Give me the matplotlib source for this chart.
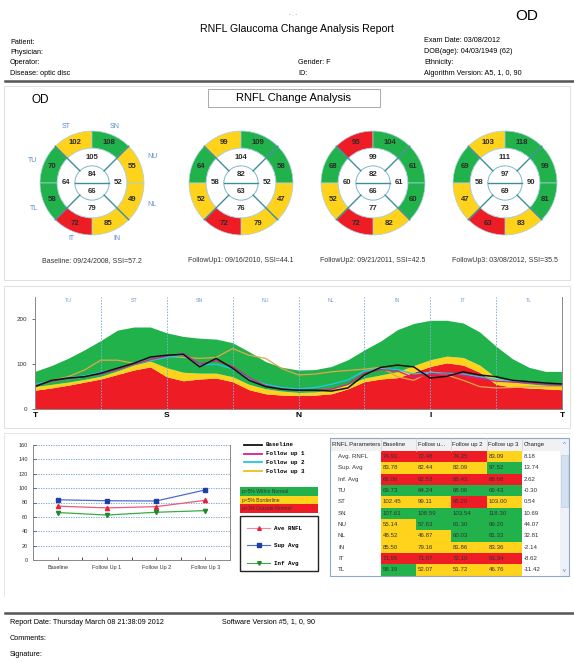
import numpy as np
import matplotlib.pyplot as plt
from matplotlib.patches import Wedge, Circle, Rectangle, Arc

plt.rcParams['font.family'] = ['Liberation Sans', 'DejaVu Sans']

# ---------------- data ----------------
visits = ['Baseline', 'Follow Up 1', 'Follow Up 2', 'Follow Up 3']
captions = ['Baseline: 09/24/2008, SSI=57.2', 'FollowUp1: 09/16/2010, SSI=44.1',
            'FollowUp2: 09/21/2011, SSI=42.5', 'FollowUp3: 03/08/2012, SSI=35.5']

# clock sectors, OD (nasal on the right)
sectors = ['TU', 'ST', 'SN', 'NU', 'NL', 'IN', 'IT', 'TL']
sector_vals = [[70, 102, 108, 55, 49, 85, 72, 58],
               [64, 99, 109, 58, 47, 79, 72, 52],
               [68, 95, 104, 61, 60, 82, 72, 52],
               [69, 103, 118, 99, 81, 83, 63, 47]]
quad_vals = [[105, 52, 79, 64],   # S, N, I, T
             [104, 52, 76, 58],
             [99, 61, 77, 60],
             [111, 90, 73, 58]]
center_vals = [[84, 66], [82, 63], [82, 66], [97, 69]]

# table
params = ['Avg. RNFL', 'Sup. Avg', 'Inf. Avg', 'TU', 'ST', 'SN', 'NU', 'NL', 'IN', 'IT', 'TL']
table_vals = [[74.91, 72.48, 74.25, 83.09],
              [83.78, 82.44, 82.09, 97.52],
              [66.06, 62.53, 66.43, 68.68],
              [69.73, 64.24, 68.06, 69.43],
              [102.45, 99.11, 95.20, 103.00],
              [107.61, 108.59, 103.54, 118.30],
              [55.14, 57.63, 61.30, 99.20],
              [48.52, 46.87, 60.03, 81.33],
              [85.50, 79.16, 81.86, 83.36],
              [71.95, 71.97, 72.10, 63.34],
              [58.19, 52.07, 51.72, 46.76]]
change_vals = ['8.18', '13.74', '2.62', '-0.30', '0.54', '10.69', '44.07', '32.81', '-2.14', '-8.62', '-11.42']
status = ['RRRY', 'YYYG', 'RRRR', 'GGGG', 'YYRY', 'GGGG', 'YGGG', 'YYGG', 'YYYY', 'RRRR', 'GYYY']
table_header = ['RNFL Parameters', 'Baseline', 'Follow u...', 'Follow up 2', 'Follow up 3', 'Change']

# TSNIT profile, sampled every quarter sector (T-S-N-I-T)
tsnit_x = np.linspace(0, 8, 33)
norm_1 = [42, 47, 53, 60, 67, 77, 87, 94, 72, 63, 67, 69, 61, 43, 34, 31, 30,
          31, 34, 45, 61, 67, 70, 82, 95, 103, 98, 82, 55, 49, 47, 45, 43]
norm_5 = [50, 55, 60, 66, 73, 85, 98, 107, 92, 82, 80, 80, 72, 55, 45, 40, 37,
          38, 44, 55, 69, 76, 83, 97, 110, 118, 115, 98, 70, 60, 56, 53, 51]
norm_95 = [84, 97, 113, 132, 153, 176, 183, 183, 170, 162, 158, 156, 148, 128, 106, 93, 87,
           88, 95, 110, 132, 152, 177, 191, 198, 198, 192, 172, 140, 112, 93, 84, 84]
tsnit_base = [50, 64, 69, 72, 80, 91, 102, 116, 120, 122, 94, 113, 91, 64, 50, 44, 42,
              42, 40, 47, 76, 93, 98, 94, 69, 73, 83, 76, 72, 64, 61, 58, 56]
tsnit_fu1 = [52, 62, 68, 72, 78, 88, 100, 110, 118, 124, 100, 108, 95, 70, 52, 45, 42,
             42, 44, 55, 80, 88, 85, 70, 78, 78, 75, 68, 62, 60, 58, 55, 54]
tsnit_fu2 = [55, 63, 70, 74, 82, 90, 100, 108, 115, 120, 98, 100, 90, 68, 55, 48, 45,
             48, 55, 65, 85, 90, 88, 78, 82, 80, 78, 72, 66, 62, 58, 56, 55]
tsnit_fu3 = [53, 64, 72, 87, 109, 109, 102, 109, 118, 115, 113, 115, 135, 120, 113, 90, 76,
             78, 83, 86, 89, 93, 72, 64, 83, 76, 64, 50, 47, 48, 50, 50, 50]
tsnit_ticks = ['T', 'S', 'N', 'I', 'T']

# trend lines (from table)
avg_rnfl = table_vals[0]
sup_avg = table_vals[1]
inf_avg = table_vals[2]

GREEN = '#22B24C'
YELLOW = '#FFD31C'
RED = '#EE1D25'
col_of = {'G': GREEN, 'Y': YELLOW, 'R': RED}

W, H = 574, 664
fig = plt.figure(figsize=(W / 100, H / 100), dpi=100)
fig.patch.set_facecolor('white')


def px_axes(x0, y0, x1, y1, z=1):
    return fig.add_axes([x0 / W, 1 - y1 / H, (x1 - x0) / W, (y1 - y0) / H], zorder=z)


page = px_axes(0, 0, W, H, z=0)
page.set_xlim(0, W)
page.set_ylim(H, 0)
page.axis('off')

# ---------------- header ----------------
page.text(293, 14, '- . -', ha='center', va='center', fontsize=4, color='#888')
page.text(297, 29, 'RNFL Glaucoma Change Analysis Report', ha='center', va='center', fontsize=7.6)
page.text(527, 16, 'OD', ha='center', va='center', fontsize=11)
for i, s in enumerate(['Patient:', 'Physician:', 'Operator:', 'Disease: optic disc']):
    page.text(10, 42 + i * 10.5, s, ha='left', va='center', fontsize=5.2)
page.text(298, 63, 'Gender: F', ha='left', va='center', fontsize=5.2)
page.text(298, 73.5, 'ID:', ha='left', va='center', fontsize=5.2)
for i, s in enumerate(['Exam Date: 03/08/2012', 'DOB(age): 04/03/1949 (62)', 'Ethnicity:',
                       'Algorithm Version: A5, 1, 0, 90']):
    page.text(424, 41 + i * 10.8, s, ha='left', va='center', fontsize=5.2)
page.plot([5, 574], [81, 81], color='#555', lw=1.8)

# panel frames
for (x0, y0, x1, y1) in [(4, 86, 570, 280), (4, 286, 570, 428)]:
    page.add_patch(Rectangle((x0, y0), x1 - x0, y1 - y0, fill=False, ec='#DADADA', lw=0.6))
page.plot([4, 4, 570], [596, 433, 433], color='#E2E2E2', lw=0.6)

# ---------------- circles ----------------
page.text(40, 100, 'OD', ha='center', va='center', fontsize=8.5)
page.add_patch(Rectangle((208, 89), 172, 18, fill=False, ec='#AAA', lw=0.7))
page.text(294, 98, 'RNFL Change Analysis', ha='center', va='center', fontsize=8)

centers = [92, 241, 373, 505]
cy = 183
R = 52
mids = [157.5, 112.5, 67.5, 22.5, -22.5, -67.5, -112.5, -157.5]
ring_in = 0.67
core = 0.33
for k in range(4):
    ax = px_axes(centers[k] - R - 1, cy - R - 1, centers[k] + R + 1, cy + R + 1, z=2)
    ax.set_xlim(-1.02, 1.02)
    ax.set_ylim(-1.02, 1.02)
    ax.axis('off')
    for j, sec in enumerate(sectors):
        c = col_of[status[3 + j][k]]
        ax.add_patch(Wedge((0, 0), 1.0, mids[j] - 22.5, mids[j] + 22.5, width=1 - ring_in,
                           facecolor=c, edgecolor='#A9CFDC', lw=0.5))
        a = np.deg2rad(mids[j])
        ax.text(0.835 * np.cos(a), 0.835 * np.sin(a), str(sector_vals[k][j]), ha='center', va='center',
                fontsize=5.6, fontweight='bold', color='#2B2B2B')
    ax.add_patch(Circle((0, 0), ring_in, facecolor='white', edgecolor='#A9CFDC', lw=0.6))
    ax.add_patch(Circle((0, 0), core, facecolor='white', edgecolor='#7FB8C8', lw=0.7))
    for ang in [45, 135, 225, 315]:
        a = np.deg2rad(ang)
        ax.plot([core * np.cos(a), np.cos(a)], [core * np.sin(a), np.sin(a)], color='#3E8E9E', lw=1.0)
    ax.plot([-core, core], [0, 0], color='#3E8E9E', lw=1.0)
    for q, ang in enumerate([90, 0, 270, 180]):
        a = np.deg2rad(ang)
        ax.text(0.5 * np.cos(a), 0.5 * np.sin(a), str(quad_vals[k][q]), ha='center', va='center',
                fontsize=5.6, fontweight='bold', color='#2B2B2B')
    ax.text(0, 0.16, str(center_vals[k][0]), ha='center', va='center', fontsize=5.6,
            fontweight='bold', color='#2B2B2B')
    ax.text(0, -0.17, str(center_vals[k][1]), ha='center', va='center', fontsize=5.6,
            fontweight='bold', color='#2B2B2B')
    page.text(centers[k], 261, captions[k], ha='center', va='center', fontsize=5, color='#333')

# sector names around the first circle
label_pos = {'ST': (66, 126), 'SN': (115, 126), 'NU': (152, 156), 'NL': (152, 204),
             'IN': (117, 239), 'IT': (71, 239), 'TL': (34, 208), 'TU': (33, 161)}
for name, (lx, ly) in label_pos.items():
    page.text(lx, ly, name, ha='center', va='center', fontsize=5, color='#5A8CC8')

# ---------------- TSNIT ----------------
ax = px_axes(35, 297, 562, 409, z=2)
ax.fill_between(tsnit_x, 0, norm_1, color=RED, lw=0)
ax.fill_between(tsnit_x, norm_1, norm_5, color=YELLOW, lw=0)
ax.fill_between(tsnit_x, norm_5, norm_95, color=GREEN, lw=0)
for v in range(1, 8):
    ax.axvline(v, color='#7FB0DD', lw=0.7, ls=(0, (1.5, 1.5)))
ax.plot(tsnit_x, tsnit_fu3, color='#E0A848', lw=0.9)
ax.plot(tsnit_x, tsnit_fu2, color='#20C8E8', lw=0.9)
ax.plot(tsnit_x, tsnit_fu1, color='#D8208C', lw=0.9)
ax.plot(tsnit_x, tsnit_base, color='#111111', lw=1.1)
for i, sec in enumerate(sectors):
    ax.text(i + 0.5, 243, sec, ha='center', va='center', fontsize=3.8, color='#6E9BD0')
ax.set_xlim(0, 8)
ax.set_ylim(0, 250)
ax.set_yticks([0, 100, 200])
ax.set_xticks([0, 2, 4, 6, 8])
ax.set_xticklabels(tsnit_ticks, fontsize=6, fontweight='bold')
ax.tick_params(axis='y', labelsize=4.5, length=2, width=0.5, colors='#333')
ax.tick_params(axis='x', length=0, pad=2)
ax.spines['top'].set_visible(False)
for s in ['left', 'right', 'bottom']:
    ax.spines[s].set_color('#888')
    ax.spines[s].set_linewidth(0.7)

# ---------------- trend chart ----------------
ax2 = px_axes(33, 445, 230, 560, z=2)
xs = np.arange(len(visits))
ax2.plot(xs, sup_avg, color='#4C6CD0', lw=0.9, marker='s', ms=3, mfc='#1F3FA8', mec='#1F3FA8')
ax2.plot(xs, avg_rnfl, color='#E85A78', lw=0.9, marker='^', ms=3, mfc='#E8203C', mec='#E8203C')
ax2.plot(xs, inf_avg, color='#3CAA44', lw=0.9, marker='v', ms=3, mfc='#1E8A2E', mec='#1E8A2E')
ax2.set_xlim(-0.5, 3.5)
ax2.set_ylim(0, 160)
ax2.set_yticks(range(0, 161, 20))
ax2.set_xticks(xs)
ax2.set_xticklabels(visits)
ax2.set_xticks(np.arange(-0.5, 3.6, 0.5), minor=True)
ax2.grid(axis='y', color='#5FA0C0', lw=0.6, ls=(0, (1.5, 1.5)))
ax2.tick_params(axis='both', labelsize=4, length=2, width=0.5, direction='in', colors='#333')
ax2.tick_params(axis='x', which='minor', length=2, width=0.5, direction='in')
ax2.spines['top'].set_visible(False)
for s in ['left', 'right', 'bottom']:
    ax2.spines[s].set_color('#888')
    ax2.spines[s].set_linewidth(0.7)

# legend block
mono = ['Liberation Mono', 'DejaVu Sans Mono']
for i, (lab, c) in enumerate(zip(['Baseline', 'Follow up 1', 'Follow up 2', 'Follow up 3'],
                                 ['#111111', '#D8208C', '#20C8E8', '#E8C020'])):
    y = 445 + i * 8.7
    page.plot([244, 262], [y, y], color=c, lw=1.3)
    page.text(266, y, lab, ha='left', va='center', fontsize=4.2, family=mono, fontweight='bold')
for i, (lab, c) in enumerate(zip(['p>5% Within Normal', 'p<5% Borderline', 'p<1% Outside Normal'],
                                 [GREEN, YELLOW, RED])):
    y0 = 487 + i * 8.7
    page.add_patch(Rectangle((240, y0), 78, 8.7, facecolor=c, edgecolor='none'))
    page.text(242, y0 + 4.4, lab, ha='left', va='center', fontsize=3.6, color='#333')
page.add_patch(Rectangle((240, 516), 78, 55, fill=False, ec='#222', lw=1.0))
for lab, (lc, mc, m), y in zip(['Ave RNFL', 'Sup Avg', 'Inf Avg'],
                              [('#F08AA0', '#E8203C', '^'), ('#4C6CD0', '#1F3FA8', 's'),
                               ('#3CAA44', '#1E8A2E', 'v')],
                              [528, 545, 563]):
    page.plot([247, 270], [y, y], color=lc, lw=0.8)
    page.plot([258.5], [y], marker=m, ms=2.6, color=mc, ls='none')
    page.text(274, y, lab, ha='left', va='center', fontsize=4.2, family=mono, fontweight='bold')

# ---------------- table ----------------
col_edges = [330, 381, 416, 451, 487, 522, 560]
top, head_h, row_h = 438, 13, 11.33
page.add_patch(Rectangle((330, top), col_edges[-1] - 330, head_h, facecolor='#F1F1F1', edgecolor='none'))
for j, htxt in enumerate(table_header):
    page.text(col_edges[j] + 1.5, top + head_h / 2, htxt, ha='left', va='center', fontsize=4.3, color='#222')
    if j > 0:
        page.plot([col_edges[j], col_edges[j]], [top, top + head_h], color='#D0D0D0', lw=0.5)
for i, p in enumerate(params):
    y0 = top + head_h + i * row_h
    page.text(338, y0 + row_h / 2, p, ha='left', va='center', fontsize=4.4, color='#333')
    for k in range(4):
        x0, x1 = col_edges[k + 1], col_edges[k + 2]
        page.add_patch(Rectangle((x0 + 0.4, y0), x1 - x0 - 0.8, row_h,
                                 facecolor=col_of[status[i][k]], edgecolor='none'))
        page.text(x0 + 2, y0 + row_h / 2, '%.2f' % table_vals[i][k], ha='left', va='center',
                  fontsize=4.4, color='#333')
    page.text(col_edges[5] + 2, y0 + row_h / 2, change_vals[i], ha='left', va='center',
              fontsize=4.4, color='#333')
bottom = top + head_h + len(params) * row_h
page.add_patch(Rectangle((560, top), 8.5, bottom - top, facecolor='#EEF2F8', edgecolor='none'))
page.add_patch(Rectangle((560.5, 455), 7.5, 52, facecolor='#D3E0F0', edgecolor='#B8C8E0', lw=0.4))
page.text(564.3, 444, '^', ha='center', va='center', fontsize=4.5, color='#5070B0')
page.text(564.3, 571, 'v', ha='center', va='center', fontsize=4, color='#5070B0')
page.add_patch(Rectangle((330, top), 238.5, bottom - top, fill=False, ec='#90A8C8', lw=0.8))

# ---------------- footer ----------------
page.plot([5, 574], [613, 613], color='#555', lw=1.8)
page.text(10, 622, 'Report Date: Thursday March 08 21:38:09 2012', ha='left', va='center', fontsize=5.2)
page.text(222, 622, 'Software Version #5, 1, 0, 90', ha='left', va='center', fontsize=5.2)
page.text(10, 638, 'Comments:', ha='left', va='center', fontsize=5.2)
page.text(10, 654, 'Signature:', ha='left', va='center', fontsize=5.2)
page.add_patch(Arc((478, 708), 110, 100, theta1=30, theta2=150, color='#999', lw=0.8))

fig.savefig('out.png', dpi=100)
